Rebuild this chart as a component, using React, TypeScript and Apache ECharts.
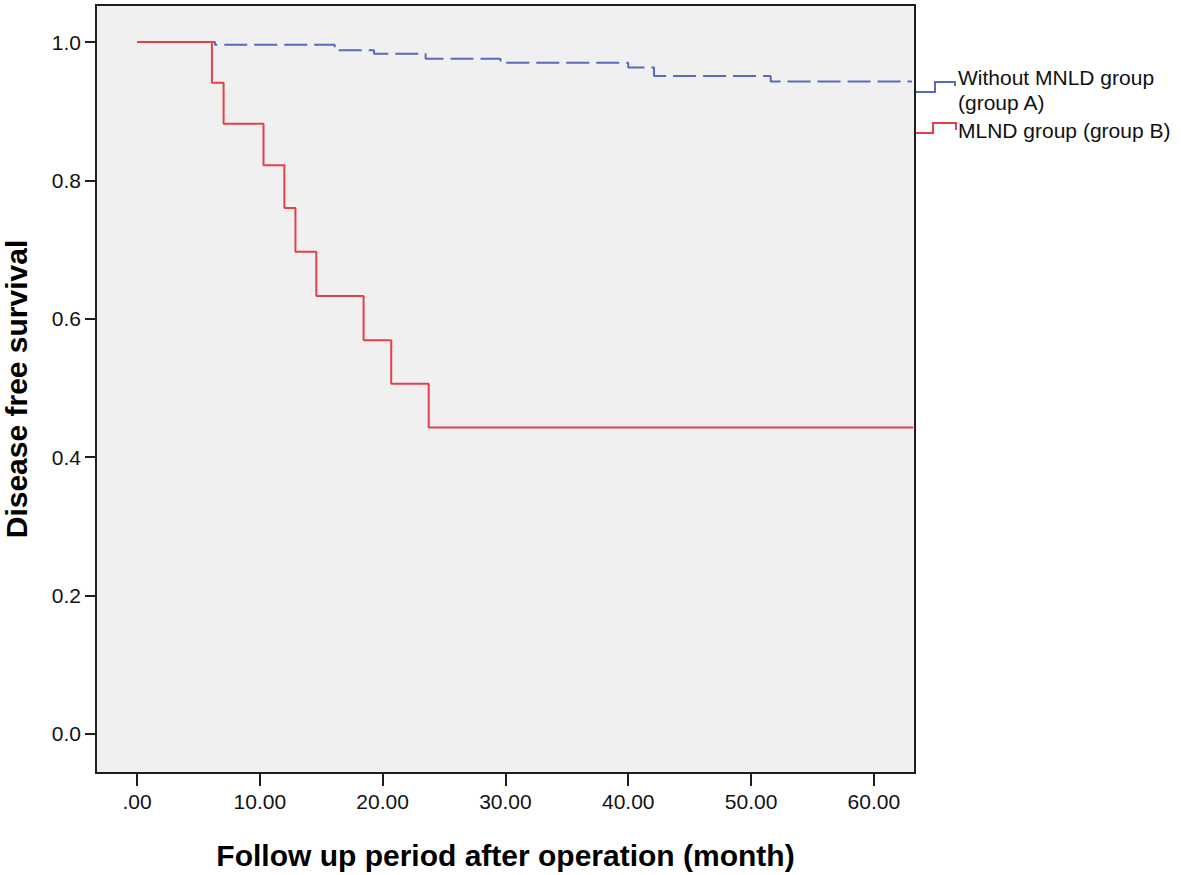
import React, { useEffect, useRef } from "react";
import * as echarts from "echarts";

// Kaplan-Meier step data (time in months, survival proportion)
const groupATimes = [0, 6.35, 16.1, 19.3, 23.5, 29.6, 40.0, 42.1, 51.6, 63.1];
const groupASurvival = [1.0, 0.996, 0.988, 0.983, 0.976, 0.97, 0.963, 0.951, 0.943, 0.943];
const groupBTimes = [0, 6.1, 7.05, 10.3, 12.0, 12.9, 14.6, 18.45, 20.7, 23.75, 63.2];
const groupBSurvival = [1.0, 0.941, 0.882, 0.822, 0.76, 0.697, 0.633, 0.569, 0.506, 0.443, 0.443];

const xTicks = [0, 10, 20, 30, 40, 50, 60];
const yTicks = [0, 0.2, 0.4, 0.6, 0.8, 1.0];
const legendA = ["Without MNLD group", "(group A)"];
const legendB = "MLND group (group B)";
const xTitle = "Follow up period after operation (month)";
const yTitle = "Disease free survival";

const BLUE = "#5a68bd";
const RED = "#e5404a";
const FRAME = "#1e1e1e";

export default function App() {
  const ref = useRef<HTMLDivElement>(null);
  useEffect(() => {
    if (!ref.current) return;
    const chart = echarts.init(ref.current, null, { renderer: "svg" });
    const a = groupATimes.map((t, i) => [t, groupASurvival[i]]);
    const b = groupBTimes.map((t, i) => [t, groupBSurvival[i]]);
    const font = "'Liberation Sans', Arial, sans-serif";
    chart.setOption({
      animation: false,
      backgroundColor: "#ffffff",
      grid: {
        left: 96,
        top: 5,
        right: 266,
        bottom: 102,
        outerBoundsMode: "none",
        containLabel: false,
        show: true,
        backgroundColor: "#f0f0f0",
        borderColor: FRAME,
        borderWidth: 2,
      },
      xAxis: {
        type: "value",
        min: -3.34,
        max: 63.35,
        name: xTitle,
        nameLocation: "middle",
        nameGap: 67,
        nameTextStyle: { fontFamily: font, fontWeight: "bold", fontSize: 30, color: "#000" },
        axisLine: { show: true, onZero: false, lineStyle: { color: FRAME, width: 2 } },
        axisTick: { show: true, length: 13, lineStyle: { color: FRAME, width: 2 }, customValues: xTicks },
        axisLabel: {
          customValues: xTicks,
          margin: 18,
          fontFamily: font,
          fontSize: 21,
          color: "#111",
          formatter: (v: number) => (v === 0 ? ".00" : v.toFixed(2)),
        },
        splitLine: { show: false },
      },
      yAxis: {
        type: "value",
        min: -0.0564,
        max: 1.0535,
        name: yTitle,
        nameLocation: "middle",
        nameGap: 65,
        nameTextStyle: { fontFamily: font, fontWeight: "bold", fontSize: 30, color: "#000" },
        axisLine: { show: true, onZero: false, lineStyle: { color: FRAME, width: 2 } },
        axisTick: { show: true, length: 11, lineStyle: { color: FRAME, width: 2 }, customValues: yTicks },
        axisLabel: {
          customValues: yTicks,
          margin: 15,
          fontFamily: font,
          fontSize: 21,
          color: "#111",
          formatter: (v: number) => v.toFixed(1),
        },
        splitLine: { show: false },
      },
      series: [
        {
          name: "Without MNLD group (group A)",
          type: "line",
          step: "end",
          data: a,
          symbol: "none",
          lineStyle: { color: BLUE, width: 2, type: [23, 7] },
          z: 2,
        },
        {
          name: "MLND group (group B)",
          type: "line",
          step: "end",
          data: b,
          symbol: "none",
          lineStyle: { color: RED, width: 2 },
          z: 3,
        },
      ],
      graphic: [
        {
          type: "polyline",
          shape: { points: [[916, 92], [935, 92], [935, 82], [955, 82], [955, 86]] },
          style: { stroke: BLUE, lineWidth: 2, fill: null },
        },
        {
          type: "polyline",
          shape: { points: [[916, 133], [933, 133], [933, 123], [956, 123], [956, 130]] },
          style: { stroke: RED, lineWidth: 2, fill: null },
        },
        {
          type: "text",
          x: 958,
          y: 77,
          style: { text: legendA[0], fontFamily: font, fontSize: 21, fill: "#111", verticalAlign: "middle", align: "left" },
        },
        {
          type: "text",
          x: 958,
          y: 102,
          style: { text: legendA[1], fontFamily: font, fontSize: 21, fill: "#111", verticalAlign: "middle", align: "left" },
        },
        {
          type: "text",
          x: 958,
          y: 130,
          style: { text: legendB, fontFamily: font, fontSize: 21, fill: "#111", verticalAlign: "middle", align: "left" },
        },
      ],
    });
    return () => chart.dispose();
  }, []);
  return (
    <div
      ref={ref}
      style={{ position: "absolute", left: 0, top: 0, width: 1181, height: 875, background: "#fff" }}
    />
  );
}
